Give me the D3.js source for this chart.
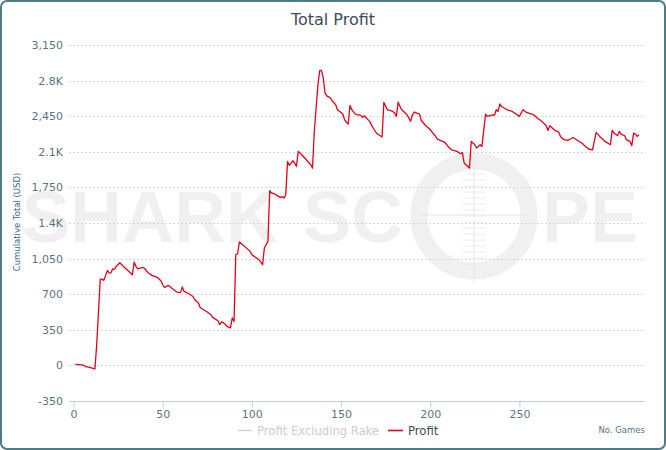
<!DOCTYPE html>
<html>
<head>
<meta charset="utf-8">
<script src="https://cdn.jsdelivr.net/npm/d3@7"></script>
<style>
  body { margin: 0; background: #fff; }
  text { font-family: "DejaVu Sans", sans-serif; }
</style>
</head>
<body>
<div id="chart"></div>
<script>
// games (x) and cumulative profit (y)
var games = [1, 5, 7, 9, 12, 13, 15, 16, 17, 19, 20, 21, 22, 23, 24, 26, 27, 33, 34, 35,
  36, 39, 40, 42, 44, 47, 49, 50, 51, 53, 54, 55, 57, 58, 60, 61, 62, 64, 67, 68,
  70, 71, 72, 75, 77, 78, 81, 82, 83, 84, 85, 86, 88, 89, 90, 91, 92, 93, 96, 99,
  100, 104, 106, 107, 109, 110, 111, 113, 114, 116, 117, 118, 119, 120, 121, 123, 124, 125, 126, 128,
  131, 133, 134, 135, 137, 138, 139, 140, 141, 142, 144, 145, 147, 148, 151, 152, 153, 154, 155, 156,
  158, 159, 161, 162, 163, 166, 168, 170, 173, 174, 176, 179, 180, 181, 182, 183, 184, 187, 189, 190,
  191, 194, 195, 197, 200, 203, 204, 208, 210, 212, 215, 217, 218, 219, 222, 223, 225, 226, 228, 229,
  231, 232, 235, 236, 237, 238, 239, 240, 243, 244, 246, 250, 252, 254, 258, 260, 263, 265, 266, 267,
  270, 272, 273, 275, 277, 279, 280, 282, 285, 287, 289, 291, 293, 295, 298, 301, 302, 303, 305, 306,
  307, 309, 310, 312, 313, 314, 315, 316, 317];
var profit = [10, 5, -13, -20, -35, 200, 849, 849, 836, 934, 908, 910, 950, 945, 975, 1010, 990, 891, 1016, 973,
  950, 963, 950, 908, 885, 865, 833, 793, 767, 786, 777, 761, 734, 721, 715, 771, 727, 712, 678, 646,
  613, 570, 557, 525, 498, 472, 439, 400, 427, 420, 405, 383, 368, 466, 433, 1088, 1098, 1213, 1170, 1121,
  1088, 1039, 990, 1154, 1219, 1717, 1695, 1685, 1671, 1652, 1660, 1645, 1678, 2005, 1966, 2012, 1989, 1956, 2104, 2071,
  2012, 1973, 1940, 2300, 2750, 2897, 2900, 2830, 2680, 2650, 2630, 2602, 2563, 2514, 2471, 2415, 2390, 2373, 2556, 2514,
  2471, 2465, 2458, 2438, 2455, 2399, 2334, 2280, 2245, 2585, 2514, 2497, 2481, 2448, 2589, 2546, 2514, 2464, 2399, 2464,
  2491, 2471, 2408, 2366, 2317, 2251, 2225, 2196, 2153, 2120, 2104, 2081, 2094, 1990, 1940, 2202, 2169, 2137, 2169, 2153,
  2471, 2448, 2464, 2460, 2514, 2497, 2570, 2546, 2514, 2507, 2497, 2448, 2514, 2487, 2464, 2432, 2392, 2356, 2310, 2356,
  2310, 2294, 2251, 2219, 2212, 2228, 2241, 2219, 2186, 2153, 2125, 2120, 2291, 2251, 2202, 2169, 2310, 2284, 2258, 2300,
  2274, 2258, 2219, 2202, 2160, 2284, 2274, 2251, 2268];

var yTicks = [-350, 0, 350, 700, 1050, 1400, 1750, 2100, 2450, 2800, 3150];
var yTickLabels = ["-350", "0", "350", "700", "1,050", "1.4K", "1,750", "2.1K", "2,450", "2.8K", "3,150"];
var xTicks = [0, 50, 100, 150, 200, 250];
var seriesNames = ["Profit Excluding Rake", "Profit"];

var width = 666, height = 450;

var svg = d3.select("#chart").append("svg")
  .attr("width", width)
  .attr("height", height);

// frame
svg.append("rect")
  .attr("x", 1)
  .attr("y", 1)
  .attr("width", width - 2)
  .attr("height", height - 2)
  .attr("rx", 6)
  .attr("fill", "#fff")
  .attr("stroke", "#4d7c86")
  .attr("stroke-width", 2);

var x = d3.scaleLinear().domain([0, 320.4]).range([73.5, 645]);
var y = d3.scaleLinear().domain([-350, 3150]).range([401, 45]);

// watermark
var wm = svg.append("g").attr("fill", "#f0f0f0");
wm.append("text")
  .text("SHARK")
  .attr("x", 22).attr("y", 242)
  .style("font-family", "Liberation Sans")
  .style("font-weight", "bold")
  .style("font-size", "72px");
wm.append("text")
  .text("SC")
  .attr("x", 303).attr("y", 242)
  .style("font-family", "Liberation Sans")
  .style("font-weight", "bold")
  .style("font-size", "72px");
wm.append("text")
  .text("PE")
  .attr("x", 542).attr("y", 242)
  .style("font-family", "Liberation Sans")
  .style("font-weight", "bold")
  .style("font-size", "72px");
wm.append("circle")
  .attr("cx", 474).attr("cy", 216).attr("r", 55)
  .attr("fill", "none")
  .attr("stroke", "#f0f0f0")
  .attr("stroke-width", 17);
wm.append("line")
  .attr("x1", 474).attr("x2", 474).attr("y1", 150).attr("y2", 282)
  .attr("stroke", "#e6e6e6");
wm.append("line")
  .attr("x1", 420).attr("x2", 528).attr("y1", 215).attr("y2", 215)
  .attr("stroke", "#e6e6e6");
for (var t = 168; t <= 264; t += 6) {
  wm.append("line")
    .attr("x1", 463).attr("x2", 486).attr("y1", t).attr("y2", t)
    .attr("stroke", "#ececec");
}

// grid
svg.append("g")
  .selectAll("line")
  .data(yTicks.slice(1))
  .enter().append("line")
    .attr("x1", 69)
    .attr("x2", 645)
    .attr("y1", function(d) { return Math.round(y(d)) + 0.5; })
    .attr("y2", function(d) { return Math.round(y(d)) + 0.5; })
    .attr("stroke", "#d6d6d6")
    .attr("stroke-dasharray", "2,2");

// y axis labels
var yAxis = svg.append("g")
  .attr("transform", "translate(69,0)")
  .call(d3.axisLeft(y)
    .tickValues(yTicks)
    .tickSize(0)
    .tickPadding(6)
    .tickFormat(function(d, i) { return yTickLabels[i]; }));
yAxis.select(".domain").remove();
yAxis.selectAll("text")
  .style("font-family", "DejaVu Sans")
  .style("font-size", "11px")
  .attr("fill", "#5a7386");

// x axis
var xAxis = svg.append("g")
  .attr("transform", "translate(0," + (Math.round(y(-350)) + 0.5) + ")")
  .call(d3.axisBottom(x)
    .tickValues(xTicks)
    .tickSize(6)
    .tickPadding(3)
    .tickSizeOuter(0));
xAxis.select(".domain")
  .attr("d", "M69,0H645")
  .attr("stroke", "#c0d0e0");
xAxis.selectAll(".tick line").attr("stroke", "#c0d0e0");
xAxis.selectAll("text")
  .style("font-family", "DejaVu Sans")
  .style("font-size", "11px")
  .attr("fill", "#5a7386");

// y axis title
svg.append("text")
  .text("Cumulative Total (USD)")
  .attr("transform", "translate(20,222) rotate(-90)")
  .attr("text-anchor", "middle")
  .style("font-size", "8.5px")
  .attr("fill", "#36697a");

// title
svg.append("text")
  .text("Total Profit")
  .attr("x", 333)
  .attr("y", 25)
  .attr("text-anchor", "middle")
  .style("font-size", "16px")
  .attr("fill", "#3d4b5b");

// profit line
var pts = games.map(function(g, i) { return [g, profit[i]]; });
var line = d3.line()
  .x(function(d) { return x(d[0]); })
  .y(function(d) { return y(d[1]); });

svg.append("path")
  .datum(pts)
  .attr("d", line)
  .attr("fill", "none")
  .attr("stroke", "#e3001b")
  .attr("stroke-width", 1.3)
  .attr("stroke-linejoin", "round");

// legend
var legend = svg.append("g");
legend.append("line")
  .attr("x1", 238).attr("x2", 252).attr("y1", 430.5).attr("y2", 430.5)
  .attr("stroke", "#cccccc").attr("stroke-width", 1.3);
legend.append("text")
  .text(seriesNames[0])
  .attr("x", 257).attr("y", 434.5)
  .style("font-size", "11.6px")
  .attr("fill", "#cccccc");
legend.append("line")
  .attr("x1", 388).attr("x2", 403).attr("y1", 430.5).attr("y2", 430.5)
  .attr("stroke", "#e3001b").attr("stroke-width", 1.6);
legend.append("text")
  .text(seriesNames[1])
  .attr("x", 408).attr("y", 434.5)
  .style("font-size", "11.6px")
  .attr("fill", "#3d4b5b");

svg.append("text")
  .text("No. Games")
  .attr("x", 645)
  .attr("y", 433)
  .attr("text-anchor", "end")
  .style("font-size", "8.5px")
  .attr("fill", "#5a7386");
</script>
</body>
</html>
